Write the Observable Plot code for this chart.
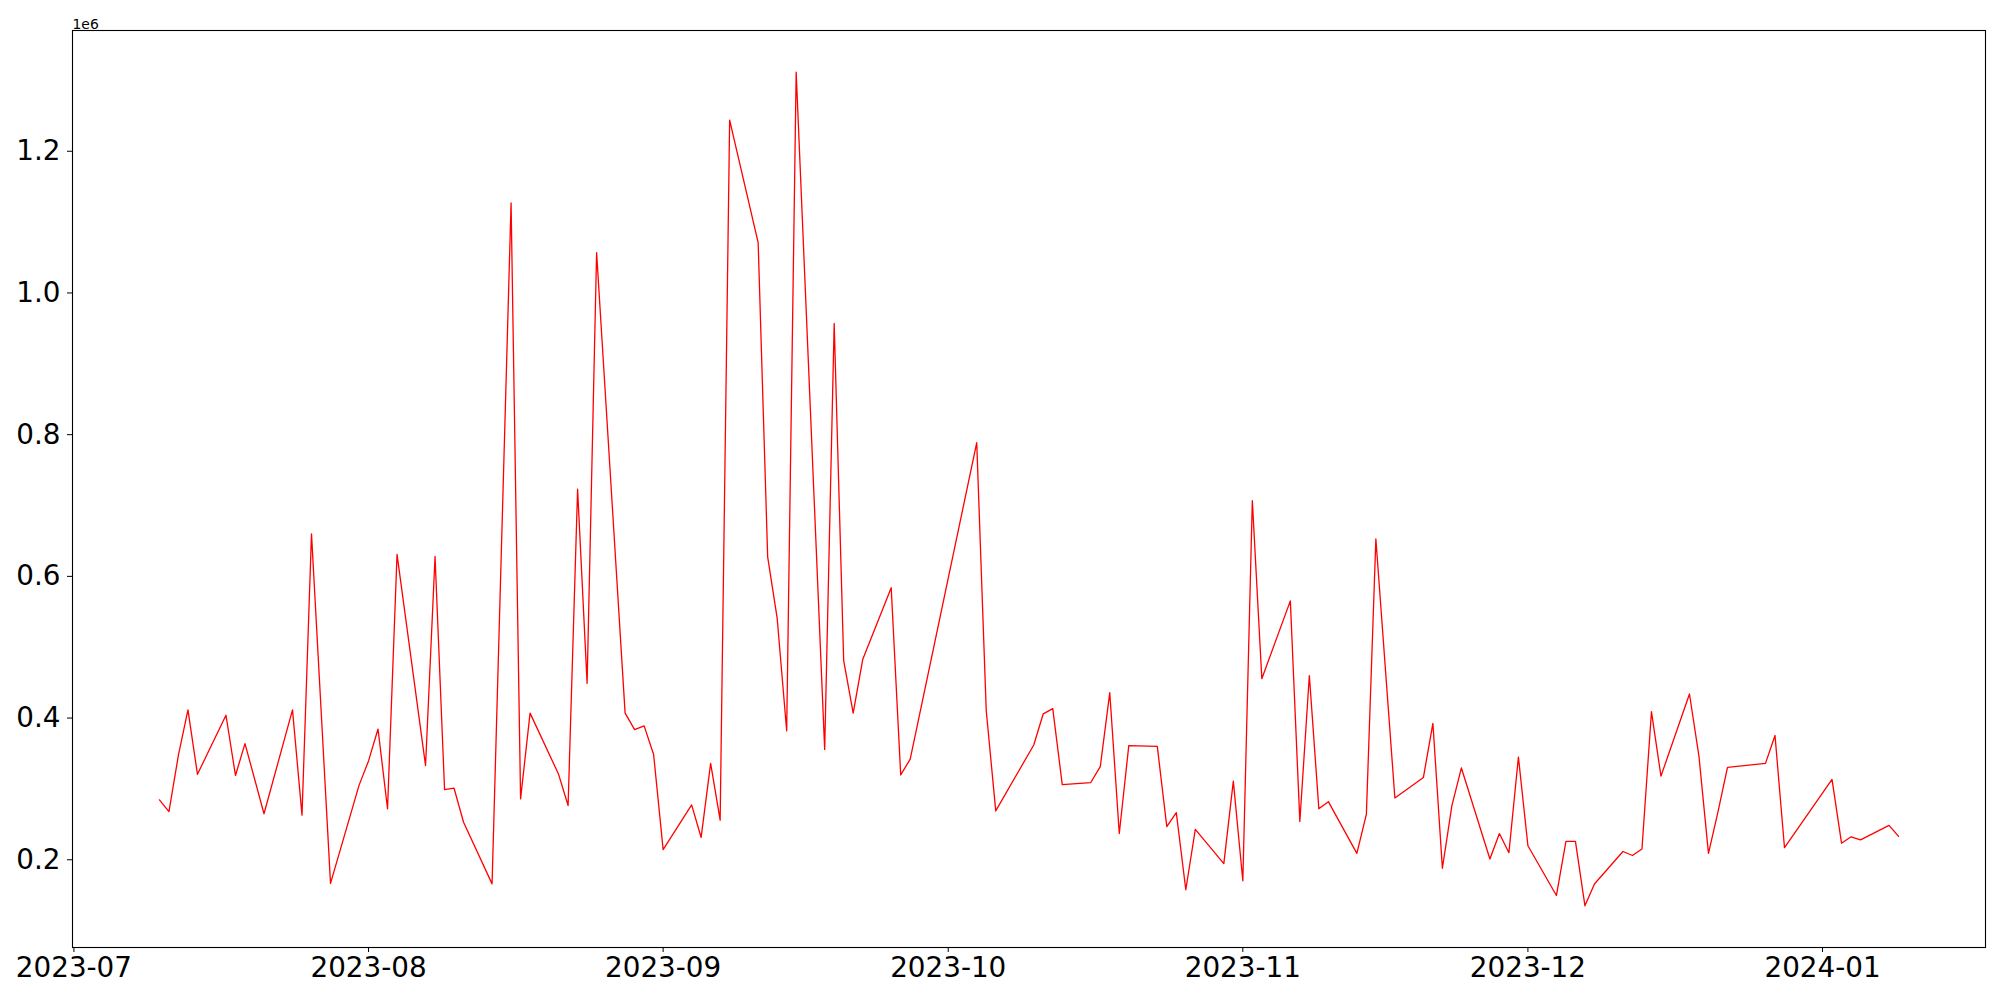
<!DOCTYPE html>
<html>
<head>
<meta charset="utf-8">
<script src="https://cdn.jsdelivr.net/npm/d3@7"></script>
<script src="https://cdn.jsdelivr.net/npm/@observablehq/plot@0.6"></script>
<style>
  html, body { margin: 0; padding: 0; background: white; }
  #chart svg { display: block; }
</style>
</head>
<body>
<div id="chart"></div>
<script>
const dates = [
  "2023-07-10","2023-07-11","2023-07-12","2023-07-13","2023-07-14","2023-07-17","2023-07-18","2023-07-19","2023-07-21","2023-07-24",
  "2023-07-25","2023-07-26","2023-07-28","2023-07-31","2023-08-01","2023-08-02","2023-08-03","2023-08-04","2023-08-07","2023-08-08",
  "2023-08-09","2023-08-10","2023-08-11","2023-08-14","2023-08-16","2023-08-17","2023-08-18","2023-08-21","2023-08-22","2023-08-23",
  "2023-08-24","2023-08-25","2023-08-28","2023-08-29","2023-08-30","2023-08-31","2023-09-01","2023-09-04","2023-09-05","2023-09-06",
  "2023-09-07","2023-09-08","2023-09-11","2023-09-12","2023-09-13","2023-09-14","2023-09-15","2023-09-18","2023-09-19","2023-09-20",
  "2023-09-21","2023-09-22","2023-09-25","2023-09-26","2023-09-27","2023-10-04","2023-10-05","2023-10-06","2023-10-10","2023-10-11",
  "2023-10-12","2023-10-13","2023-10-16","2023-10-17","2023-10-18","2023-10-19","2023-10-20","2023-10-23","2023-10-24","2023-10-25",
  "2023-10-26","2023-10-27","2023-10-30","2023-10-31","2023-11-01","2023-11-02","2023-11-03","2023-11-06","2023-11-07","2023-11-08",
  "2023-11-09","2023-11-10","2023-11-13","2023-11-14","2023-11-15","2023-11-17","2023-11-20","2023-11-21","2023-11-22","2023-11-23",
  "2023-11-24","2023-11-27","2023-11-28","2023-11-29","2023-11-30","2023-12-01","2023-12-04","2023-12-05","2023-12-06","2023-12-07",
  "2023-12-08","2023-12-11","2023-12-12","2023-12-13","2023-12-14","2023-12-15","2023-12-18","2023-12-19","2023-12-20","2023-12-21",
  "2023-12-22","2023-12-26","2023-12-27","2023-12-28","2024-01-02","2024-01-03","2024-01-04","2024-01-05","2024-01-08","2024-01-09"
];
const values = [
  284600, 268000, 348000, 411500, 320600, 404000, 319000, 364000, 265000, 411500,
  263000, 660000, 166700, 305000, 339500, 384500, 272000, 631000, 333000, 628000,
  299000, 301000, 253000, 166000, 1127000, 286000, 407000, 320600, 276500, 723000,
  449000, 1057000, 407000, 383600, 389000, 348500, 214400, 277400, 231500, 336000,
  255800, 1244000, 1071000, 627600, 541000, 382000, 1311600, 355700, 957000, 481000,
  407000, 482600, 584000, 319700, 342000, 788700, 410600, 269000, 362000, 406000,
  413300, 306000, 309000, 331400, 435800, 237000, 361000, 360000, 246800, 266600,
  157700, 243000, 194600, 311000, 170300, 706800, 455600, 565400, 254000, 460000,
  272000, 282000, 209000, 264000, 652700, 287300, 316000, 392600, 188000, 276500,
  329600, 201000, 237000, 210000, 345000, 219800, 149600, 226000, 226000, 135000,
  165800, 211700, 206000, 215300, 409000, 318000, 434000, 345800, 209000, 267500,
  330500, 336000, 375500, 217000, 313400, 223400, 232400, 228000, 248600, 233000
];
const xTickLabels = ["2023-07","2023-08","2023-09","2023-10","2023-11","2023-12","2024-01"];
const yTicks = [200000, 400000, 600000, 800000, 1000000, 1200000];
const offsetLabel = "1e6";

const parse = d3.utcParse("%Y-%m-%d");
const data = dates.map((d, i) => ({date: parse(d), value: values[i]}));
const xTicks = xTickLabels.map(s => d3.utcParse("%Y-%m")(s));

// matplotlib-style 5% margins around the data extent
const xExt = d3.extent(data, d => d.date);
const xPad = (xExt[1] - xExt[0]) * 0.05;
const yExt = d3.extent(values);
const yPad = (yExt[1] - yExt[0]) * 0.05;

const chart = Plot.plot({
  width: 2000,
  height: 1000,
  marginLeft: 72,
  marginRight: 15,
  marginTop: 30,
  marginBottom: 53,
  style: {fontFamily: "DejaVu Sans", background: "white", color: "black"},
  x: {type: "utc", domain: [new Date(+xExt[0] - xPad), new Date(+xExt[1] + xPad)]},
  y: {domain: [yExt[0] - yPad, yExt[1] + yPad]},
  marks: [
    Plot.line(data, {x: "date", y: "value", stroke: "red", strokeWidth: 1.3}),
    Plot.frame({stroke: "black", strokeWidth: 1.1}),
    Plot.axisX({ticks: xTicks, tickFormat: d3.utcFormat("%Y-%m"), tickSize: 5, tickPadding: 5,
      fontSize: 27.8, label: null, stroke: "black", strokeWidth: 1, fill: "black"}),
    Plot.axisY({ticks: yTicks, tickFormat: d => (d / 1e6).toFixed(1), tickSize: 5, tickPadding: 7,
      fontSize: 27.8, label: null, stroke: "black", strokeWidth: 1, fill: "black"}),
    Plot.text([offsetLabel], {frameAnchor: "top-left", text: d => d, textAnchor: "start",
      lineAnchor: "bottom", dy: -2, fontSize: 13.9, fill: "black"})
  ]
});
document.getElementById("chart").appendChild(chart);
</script>
</body>
</html>
